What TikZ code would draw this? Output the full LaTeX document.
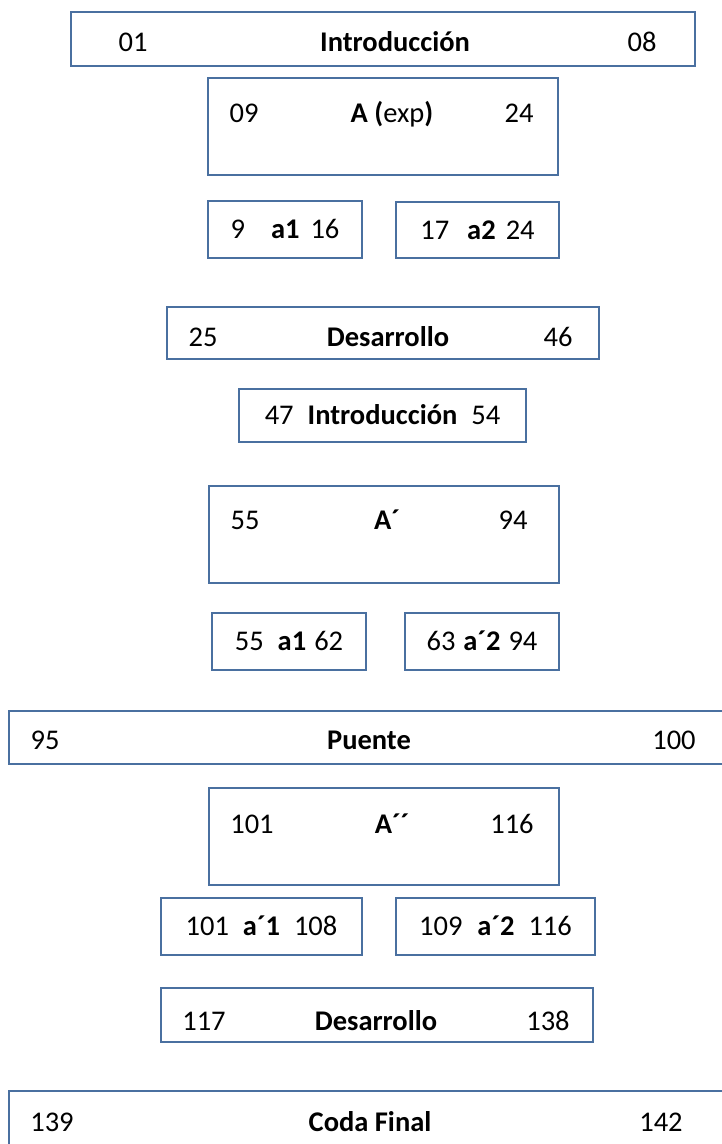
\documentclass[tikz,border=0pt]{standalone}
\usepackage{fontspec}
\setmainfont{Carlito}
\definecolor{borde}{RGB}{74,112,160}

\tikzset{
    caja/.style = {draw = borde, line width = 2.5pt, inner sep = 0pt},
    txt/.style = {inner sep = 0pt, text height = 18pt, text depth = 0pt},
}

\begin{document}
\begin{tikzpicture}[x = 1pt, y = -1pt, font = \fontsize{28.5}{34}\selectfont]
        \clip (0,0) rectangle (722,1144);
        
        % exposicion
        \node [caja, minimum width = 624pt, minimum height = 54pt] (intro) at (383,39) {};
        \node [txt] (intro-ini) at (133,42) {01};
        \node [txt] (intro-tit) at (395,42) {\textbf{Introducción}};
        \node [txt] (intro-fin) at (642,42) {08};
        
        \node [caja, minimum width = 350pt, minimum height = 97pt] (expo) at (383,126.5) {};
        \node [txt] (expo-ini) at (244,113) {09};
        \node [txt] (expo-tit) at (392,113) {\textbf{A (}exp\textbf{)}};
        \node [txt] (expo-fin) at (519,113) {24};
        
        \node [caja, txt, minimum width = 154pt, minimum height = 57pt] (a1) at (285,229.5) {9\hspace{26pt}\textbf{a1}\hspace{11pt}16};
        \node [caja, txt, minimum width = 163pt, minimum height = 56pt] (a2) at (477.5,230) {17\hspace{18pt}\textbf{a2}\hspace{10pt}24};
        
        % desarrollo
        \node [caja, minimum width = 432pt, minimum height = 52pt] (desa) at (383,333) {};
        \node [txt] (desa-ini) at (203,337) {25};
        \node [txt] (desa-tit) at (388,337) {\textbf{Desarrollo}};
        \node [txt] (desa-fin) at (558,337) {46};
        
        \node [caja, txt, minimum width = 287pt, minimum height = 53pt] (intro2) at (382.5,415.5) {47\hspace{14pt}\textbf{Introducción}\hspace{14pt}54};
        
        \node [caja, minimum width = 350pt, minimum height = 97pt] (expo2) at (384,534.5) {};
        \node [txt] (expo2-ini) at (245,520) {55};
        \node [txt] (expo2-tit) at (387,520) {\textbf{A´}};
        \node [txt] (expo2-fin) at (513,520) {94};
        
        \node [caja, txt, minimum width = 154pt, minimum height = 57pt] (b1) at (289,641.5) {55\hspace{14pt}\textbf{a1}\hspace{8pt}62};
        \node [caja, txt, minimum width = 154pt, minimum height = 57pt] (b2) at (482,641.5) {63\hspace{8pt}\textbf{a´2}\hspace{8pt}94};
        
        % puente
        \node [caja, minimum width = 731pt, minimum height = 53pt] (puente) at (374.5,737.5) {};
        \node [txt] (puente-ini) at (45,740) {95};
        \node [txt] (puente-tit) at (369,740) {\textbf{Puente}};
        \node [txt] (puente-fin) at (674,740) {100};
        
        % reexposicion
        \node [caja, minimum width = 350pt, minimum height = 97pt] (expo3) at (384,836.5) {};
        \node [txt] (expo3-ini) at (252,824) {101};
        \node [txt] (expo3-tit) at (392,824) {\textbf{A´´}};
        \node [txt] (expo3-fin) at (512,824) {116};
        
        \node [caja, txt, minimum width = 201pt, minimum height = 57pt] (c1) at (261.5,926.5) {101\hspace{14pt}\textbf{a´1}\hspace{14pt}108};
        \node [caja, txt, minimum width = 199pt, minimum height = 57pt] (c2) at (495.5,926.5) {109\hspace{15pt}\textbf{a´2}\hspace{14pt}116};
        
        \node [caja, minimum width = 432pt, minimum height = 54pt] (desa2) at (377,1015) {};
        \node [txt] (desa2-ini) at (204,1021) {117};
        \node [txt] (desa2-tit) at (376,1021) {\textbf{Desarrollo}};
        \node [txt] (desa2-fin) at (548,1021) {138};
        
        % coda
        \node [caja, minimum width = 731pt, minimum height = 61pt] (coda) at (374.5,1121.5) {};
        \node [txt] (coda-ini) at (52,1122) {139};
        \node [txt] (coda-tit) at (370,1122) {\textbf{Coda Final}};
        \node [txt] (coda-fin) at (661,1122) {142};
    \end{tikzpicture}
\end{document}
